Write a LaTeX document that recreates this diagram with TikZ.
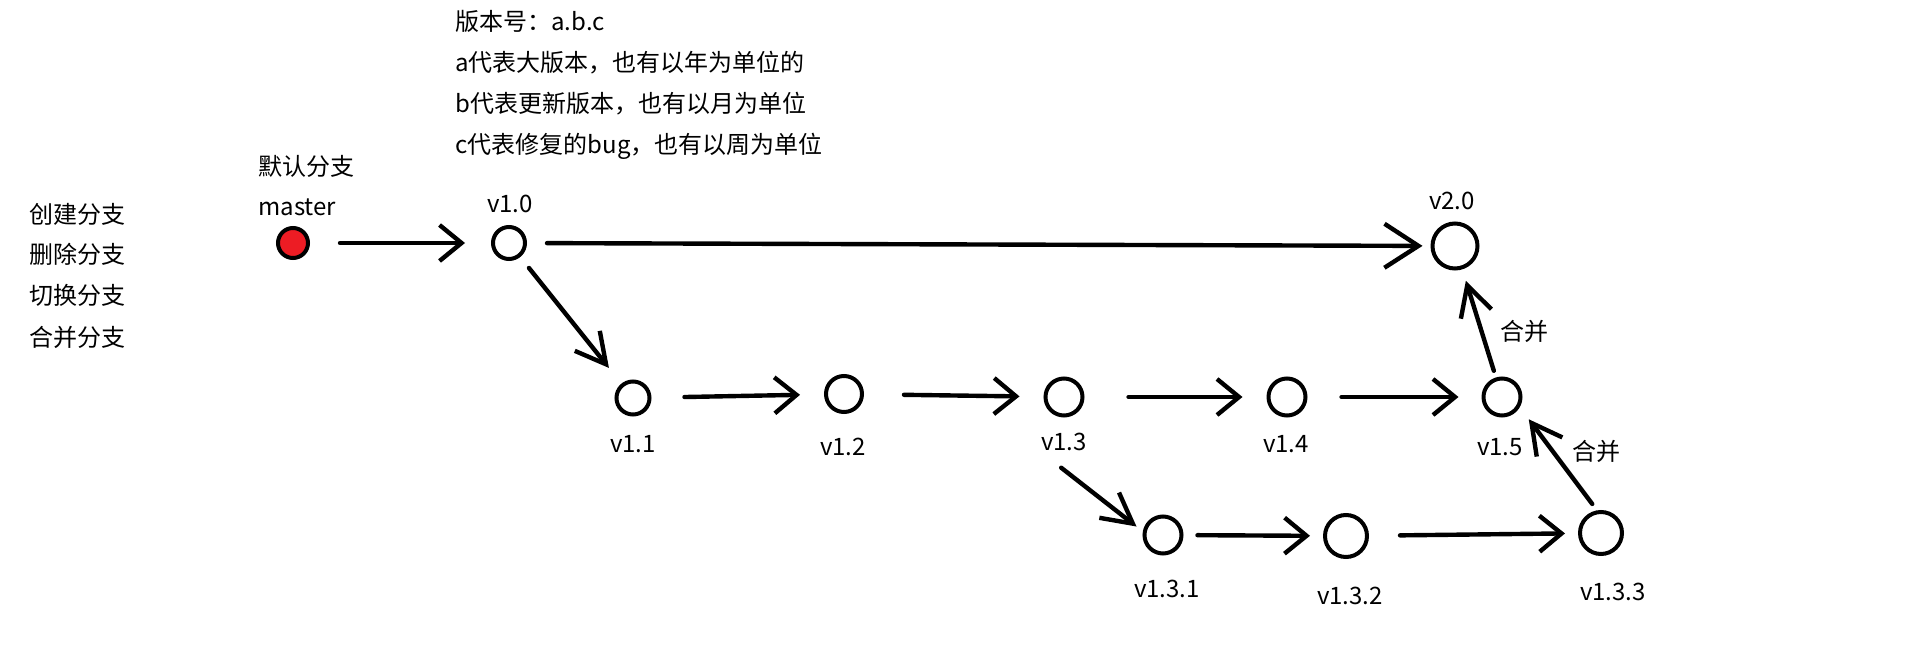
\documentclass[tikz,border=0pt]{standalone}
\usepackage{fontspec}
\setmainfont{Noto Sans CJK SC}
\usetikzlibrary{arrows.meta}
\definecolor{mred}{HTML}{ED1C24}

\begin{document}
\begin{tikzpicture}[x=0.5pt,y=-0.5pt, ver/.style={circle,draw,line width=2pt,inner sep=0pt},txt/.style={anchor=base,inner sep=0pt,font=\fontsize{12}{14}\selectfont},link/.style={-{Straight Barb[length=11pt,width=18pt]},line width=2.2pt,line cap=round},slant/.style={-{Straight Barb[length=15pt,width=16pt]}}]
              \useasboundingbox (0,0) rectangle (1908,652);
              \node[txt,anchor=base west] (info1) at (455,31) {版本号：a.b.c};
              \node[txt,anchor=base west] (info2) at (455,72) {a代表大版本，也有以年为单位的};
              \node[txt,anchor=base west] (info3) at (455,113) {b代表更新版本，也有以月为单位};
              \node[txt,anchor=base west] (info4) at (455,154) {c代表修复的bug，也有以周为单位};

              \node[txt,anchor=base west] (op1) at (29,224) {创建分支};
              \node[txt,anchor=base west] (op2) at (29,264) {删除分支};
              \node[txt,anchor=base west] (op3) at (29,305) {切换分支};
              \node[txt,anchor=base west] (op4) at (29,347) {合并分支};

              \node[txt,anchor=base west] (deflbl) at (258,176) {默认分支};
              \node[txt,anchor=base west] (masterlbl) at (258,216) {master};

              \node[ver,fill=mred,minimum size=15pt] (master) at (293,243) {};
              \node[ver,minimum size=16pt] (v10) at (509,243) {};
              \node[ver,minimum size=22.5pt] (v20) at (1455,246) {};
              \node[ver,minimum size=16.5pt] (v11) at (633,398) {};
              \node[ver,minimum size=18pt] (v12) at (844,394) {};
              \node[ver,minimum size=18.5pt] (v13) at (1064,397) {};
              \node[ver,minimum size=18.5pt] (v14) at (1287,397) {};
              \node[ver,minimum size=18.5pt] (v15) at (1502,397) {};
              \node[ver,minimum size=18.5pt] (v131) at (1163,535) {};
              \node[ver,minimum size=21pt] (v132) at (1346,536) {};
              \node[ver,minimum size=21pt] (v133) at (1601,533) {};

              \node[txt] (l10) at (510,213) {v1.0};
              \node[txt] (l20) at (1452,210) {v2.0};
              \node[txt] (l11) at (633,452) {v1.1};
              \node[txt] (l12) at (843,456) {v1.2};
              \node[txt] (l13) at (1064,451) {v1.3};
              \node[txt] (l14) at (1286,452) {v1.4};
              \node[txt] (l15) at (1500,456) {v1.5};
              \node[txt] (l131) at (1167,597) {v1.3.1};
              \node[txt] (l132) at (1350,604) {v1.3.2};
              \node[txt] (l133) at (1613,600) {v1.3.3};
              \node[txt] (merge1) at (1524,341) {合并};
              \node[txt] (merge2) at (1596,460) {合并};

              \draw[link,shorten <=15pt,shorten >=13pt] (master) -- (v10);
              \draw[link,-{Straight Barb[length=17pt,width=22pt]},shorten <=10pt,shorten >=4pt] (v10) -- (v20);
              \draw[link,slant,shorten <=7pt,shorten >=10pt] (v10) -- (v11);
              \draw[link,shorten <=16.5pt,shorten >=12pt] (v11) -- (v12);
              \draw[link,shorten <=20pt,shorten >=12pt] (v12) -- (v13);
              \draw[link,shorten <=22pt,shorten >=12pt] (v13) -- (v14);
              \draw[link,shorten <=17pt,shorten >=11.5pt] (v14) -- (v15);
              \draw[link,slant,shorten <=13pt,shorten >=4pt] (l13.south west) -- (v131.170);
              \draw[link,shorten <=7pt,shorten >=6.5pt] (v131) -- (v132);
              \draw[link,shorten <=15.5pt,shorten >=6.5pt] (v132) -- (v133);
              \draw[link,slant,shorten <=4pt,shorten >=7.5pt] (v133.100) -- (v15.-30);
              \draw[link,slant,shorten <=3.5pt,shorten >=6pt] (v15) -- (v20);
            \end{tikzpicture}
\end{document}
